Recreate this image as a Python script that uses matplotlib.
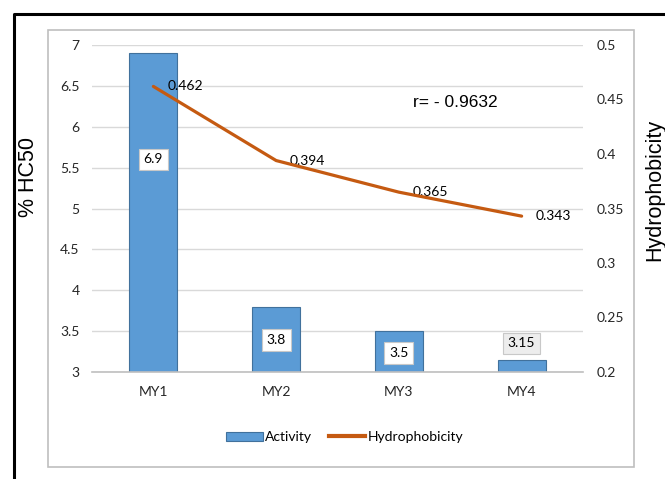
import matplotlib

matplotlib.use("Agg")
import matplotlib.pyplot as plt
from matplotlib.lines import Line2D
from matplotlib.patches import Patch, Rectangle

# 数据
samples = ["MY1", "MY2", "MY3", "MY4"]
activity = [6.9, 3.8, 3.5, 3.15]
hydrophobicity = [0.462, 0.394, 0.365, 0.343]
r_text = "r= - 0.9632"

narrow = ["Lato", "DejaVu Sans"]
arial = ["Liberation Sans", "DejaVu Sans"]

bar_color = "#5B9BD5"
bar_edge = "#41719C"
line_color = "#C55A11"
grid_color = "#D9D9D9"

fig = plt.figure(figsize=(6.65, 4.79), dpi=100)
ax = fig.add_axes([92 / 665, 1 - 372 / 479, 491 / 665, 327 / 479])
ax2 = ax.twinx()

x = list(range(len(samples)))
ax.bar(x, activity, width=0.39, bottom=0, color=bar_color,
       edgecolor=bar_edge, linewidth=0.8, zorder=2)
ax.set_xlim(-0.5, len(samples) - 0.5)
ax.set_ylim(3, 7)
ax.set_yticks([3, 3.5, 4, 4.5, 5, 5.5, 6, 6.5, 7])
ax.set_yticklabels(["%g" % v for v in ax.get_yticks()], family=narrow,
                   fontsize=10, color="#262626")
ax.set_xticks(x)
ax.set_xticklabels(samples, family=narrow, fontsize=10, color="#262626")
ax.tick_params(axis="y", length=0, pad=9)
ax.tick_params(axis="x", length=0, pad=10)
ax.grid(axis="y", color=grid_color, linewidth=1, zorder=0)
ax.set_axisbelow(True)
for side in ["left", "right", "top"]:
    ax.spines[side].set_visible(False)
ax.spines["bottom"].set_color("#BFBFBF")
ax.spines["bottom"].set_linewidth(1.2)
ax.spines["bottom"].set_zorder(3)

# 柱内数值标签
label_y = [5.6, 3.39, 3.23, 3.35]
for i, v in enumerate(activity):
    face = "#EDEDED" if v < 3.3 else "white"
    ax.text(i, label_y[i], "%g" % v, ha="center", va="center",
            family=narrow, fontsize=10, color="black", zorder=4,
            bbox=dict(boxstyle="square,pad=0.35", facecolor=face,
                      edgecolor="#C8C8C8", linewidth=0.8))

# 疏水性折线
ax2.plot(x, hydrophobicity, color=line_color, linewidth=2.3,
         solid_capstyle="round", zorder=5)
ax2.set_ylim(0.2, 0.5)
ax2.set_yticks([0.2, 0.25, 0.3, 0.35, 0.4, 0.45, 0.5])
ax2.set_yticklabels(["%g" % v for v in ax2.get_yticks()], family=narrow,
                    fontsize=10, color="#262626")
ax2.tick_params(axis="y", length=0, pad=10)
for side in ["left", "right", "top", "bottom"]:
    ax2.spines[side].set_visible(False)
for i, v in enumerate(hydrophobicity):
    ax2.annotate("%.3f" % v, (i, v), xytext=(10, 0),
                 textcoords="offset points", ha="left", va="center",
                 family=narrow, fontsize=10, color="black")

ax.text(0.654, 0.823, r_text, transform=ax.transAxes, ha="left",
        va="center", family=arial, fontsize=12.5, color="black")

fig.text(29 / 665, 1 - 177 / 479, "% HC50", rotation=90, ha="center",
         va="center", family=arial, fontsize=15.5)
fig.text(655 / 665, 1 - 190 / 479, "Hydrophobicity", rotation=90,
         ha="center", va="center", family=arial, fontsize=15.5)

handles = [
    Patch(facecolor=bar_color, edgecolor=bar_edge, linewidth=0.8),
    Line2D([0], [0], color=line_color, linewidth=3),
]
fig.legend(handles, ["Activity", "Hydrophobicity"], loc="center",
           bbox_to_anchor=(345 / 665, 1 - 437 / 479), ncol=2, frameon=False,
           prop={"family": narrow, "size": 10}, handlelength=2.6,
           handletextpad=0.2, columnspacing=1.2, handleheight=0.6)

# 外框
fig.patches.append(Rectangle((48 / 665, 1 - 467 / 479), 586 / 665, 437 / 479,
                             transform=fig.transFigure, fill=False,
                             edgecolor="#BFBFBF", linewidth=1.2))
fig.lines.append(Line2D([14 / 665, 14 / 665, 1.0], [0.0, 1 - 14 / 479, 1 - 14 / 479],
                        transform=fig.transFigure, color="black", linewidth=2.2))

fig.savefig("out.png", dpi=100)
